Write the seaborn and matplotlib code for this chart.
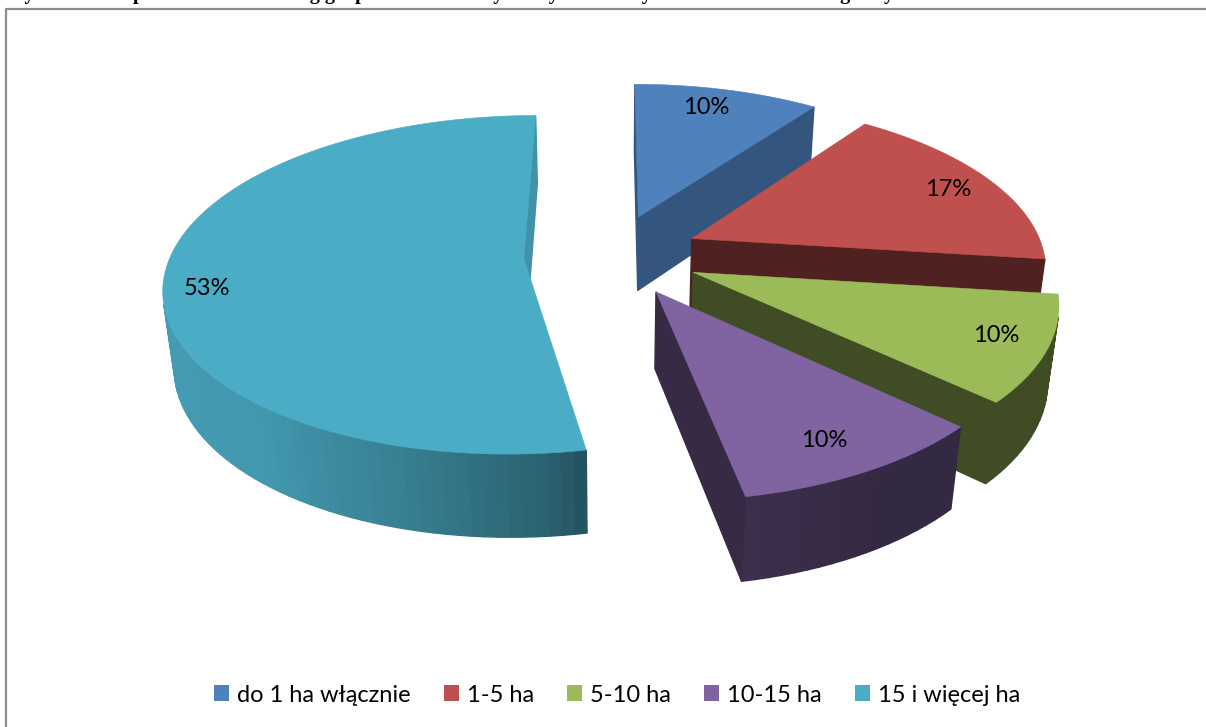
import numpy as np
import matplotlib
matplotlib.use('Agg')
import matplotlib.pyplot as plt
from matplotlib.patches import Patch
import seaborn as sns

categories = ['do 1 ha włącznie', '1-5 ha', '5-10 ha', '10-15 ha', '15 i więcej ha']
shares = [10, 17, 10, 10, 53]
title_left = 'Wykres 12. Odpowiedzi osób według grup'
title_right = 'obszarowych użytków rolnych na terenie miasta i gminy'

palette = sns.color_palette(['#4F81BD', '#C0504D', '#9BBB59', '#8064A2', '#4BACC6'])
inner_shade = [0.66, 0.41, 0.41, 0.42, 0.85]
label_radius = [0.84, 0.85, 0.86, 0.84, 0.88]
label_turn = [-2, 1, -1, 1, -6]

# camera, fitted by eye on the reference (pixels)
CX, CY = 612, 254.6
SX, SY = 353, 164
PERSP = 0.155
DEPTH_W = 0.025
THICK = 77
EXPLODE = 0.25


def project(x, y, z=0):
    w = 1 + PERSP * y + DEPTH_W * z
    return CX + SX * x / w, CY - (SY * y - THICK * z) / w


def outer_shade(deg):
    return np.interp(deg, [0, 150, 169, 176, 195, 218, 270], [0.41, 0.41, 0.47, 0.58, 0.74, 0.88, 0.92])


def dim(color, f):
    return tuple(c * f for c in color)


def wall(ax, p0, p1, color):
    a, b = project(*p0), project(*p1)
    a2, b2 = project(*p0, 1), project(*p1, 1)
    cross = (b[0] - a[0]) * (b2[1] - b[1]) - (b[1] - a[1]) * (b2[0] - b[0])
    if cross < 0:
        ax.fill([a[0], b[0], b2[0], a2[0]], [a[1], b[1], b2[1], a2[1]],
                color=color, lw=1.0, zorder=2)


sns.set_theme(style='white')
plt.rcParams['font.family'] = ['Lato', 'DejaVu Sans']

fig = plt.figure(figsize=(12.06, 7.27), dpi=100)
ax = fig.add_axes([0, 0, 1, 1])
ax.set_xlim(0, 1206)
ax.set_ylim(727, 0)
ax.axis('off')

ax.plot([6, 6, 1206], [727, 9, 9], color='#8c8c8c', lw=1.6, zorder=1)
ax.text(5, -1, title_left, family='Liberation Serif', fontweight='bold', fontsize=14.5,
        ha='left', va='baseline', color='black', clip_on=False)
ax.text(412, -1, title_right, family='Liberation Serif', fontweight='bold', fontsize=14.5,
        ha='left', va='baseline', color='black', clip_on=False)

start = 0.0
for i, share in enumerate(shares):
    end = start + share * 3.6
    mid = (start + end) / 2
    ox, oy = EXPLODE * np.sin(np.radians(mid)), EXPLODE * np.cos(np.radians(mid))
    degs = np.linspace(start, end, max(int(share * 2), 8))
    arc = [(ox + np.sin(np.radians(d)), oy + np.cos(np.radians(d))) for d in degs]
    tip = (ox, oy)

    wall(ax, tip, arc[0], dim(palette[i], inner_shade[i]))
    for j in range(len(arc) - 1):
        wall(ax, arc[j], arc[j + 1], dim(palette[i], outer_shade((degs[j] + degs[j + 1]) / 2)))
    wall(ax, arc[-1], tip, dim(palette[i], inner_shade[i]))

    top = [project(*p) for p in [tip] + arc]
    ax.fill(*zip(*top), color=palette[i], lw=0.4, zorder=2)

    turn = np.radians(mid + label_turn[i])
    lx, ly = project(ox + label_radius[i] * np.sin(turn), oy + label_radius[i] * np.cos(turn))
    ax.text(lx, ly, f'{share}%', ha='center', va='center', fontsize=17, color='black', zorder=3)
    start = end

handles = [Patch(facecolor=c, edgecolor='none', label=n) for c, n in zip(palette, categories)]
ax.legend(handles=handles, ncol=5, loc='center', bbox_to_anchor=(617 / 1206, 1 - 695 / 727),
          frameon=False, fontsize=17, handlelength=0.635, handleheight=0.635,
          handletextpad=0.34, columnspacing=1.4, labelcolor='black')

fig.savefig('out.png', dpi=100)
